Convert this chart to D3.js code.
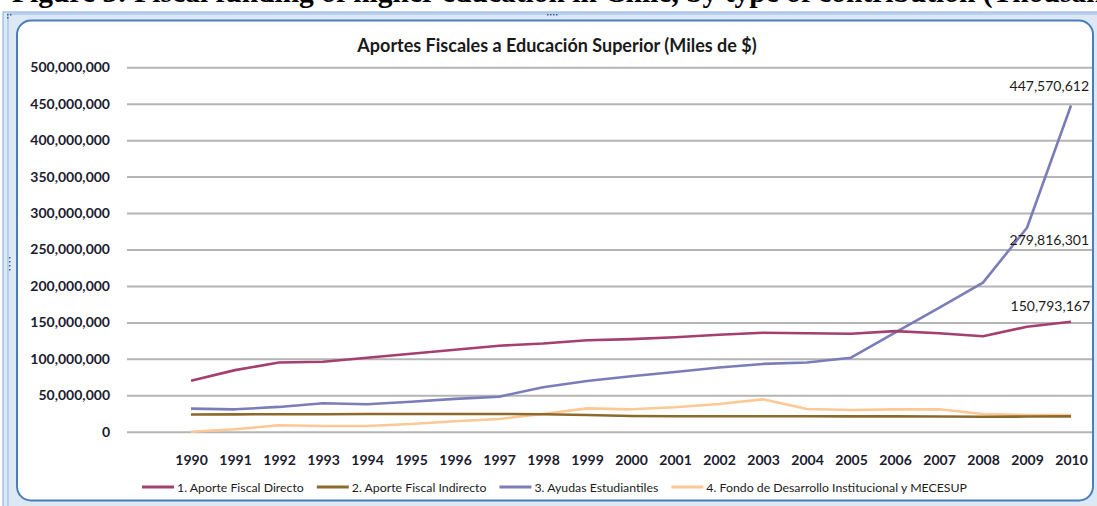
<!DOCTYPE html>
<html>
<head>
<meta charset="utf-8">
<script src="https://cdn.jsdelivr.net/npm/d3@7"></script>
<style>
  html, body { margin: 0; padding: 0; background: #fff; }
  #chart { width: 1097px; height: 506px; overflow: hidden; }
  text { font-family: Lato, "Open Sans", sans-serif; }
</style>
</head>
<body>
<div id="chart"></div>
<script>
// Values (Miles de $)
const years = ['1990', '1991', '1992', '1993', '1994', '1995', '1996', '1997', '1998', '1999', '2000',
  '2001', '2002', '2003', '2004', '2005', '2006', '2007', '2008', '2009', '2010'];

const aporteDirecto = [70.0e6, 84.5e6, 95.0e6, 96.0e6, 101.5e6, 107.0e6, 112.5e6, 118.0e6, 121.0e6, 125.5e6, 127.0e6,
  129.5e6, 133.0e6, 135.8e6, 135.0e6, 134.5e6, 138.0e6, 135.0e6, 131.0e6, 144.0e6, 150793167];

const aporteIndirecto = [23.5e6, 23.8e6, 24.0e6, 24.0e6, 24.2e6, 24.3e6, 24.3e6, 24.3e6, 24.0e6, 23.0e6, 21.5e6,
  21.3e6, 21.2e6, 21.2e6, 21.1e6, 21.0e6, 21.0e6, 20.8e6, 20.5e6, 20.8e6, 21.0e6];

const ayudas = [31.6e6, 30.7e6, 34.0e6, 39.0e6, 37.6e6, 41.0e6, 45.0e6, 48.0e6, 61.0e6, 69.6e6, 76.0e6,
  82.0e6, 88.0e6, 93.0e6, 95.0e6, 101.5e6, 136.0e6, 170.0e6, 204.5e6, 279816301, 447570612];

const fondoMecesup = [0.0e6, 3.3e6, 8.8e6, 7.8e6, 7.8e6, 10.6e6, 14.3e6, 17.4e6, 24.3e6, 32.0e6, 30.7e6,
  33.5e6, 38.0e6, 44.4e6, 31.1e6, 29.8e6, 30.7e6, 30.7e6, 24.3e6, 22.9e6, 22.9e6];

const seriesNames = ['1. Aporte Fiscal Directo', '2. Aporte Fiscal Indirecto', '3. Ayudas Estudiantiles',
  '4. Fondo de Desarrollo Institucional y MECESUP'];

const yTicks = [0, 50e6, 100e6, 150e6, 200e6, 250e6, 300e6, 350e6, 400e6, 450e6, 500e6];

const chartTitle = 'Aportes Fiscales a Educación Superior (Miles de $)';
const pageCaption = 'Figure 3: Fiscal funding of higher education in Chile, by type of contribution (Thousands of $)';

// labelled points: [series index, year]
const dataLabels = [[2, '2010'], [2, '2009'], [0, '2010']];

class LineChart {

  constructor(opts) {
    this.chart = opts.chart;
    this.series = opts.series;
    this.colours = ['#a3406f', '#8c6a2c', '#7b7db8', '#fcc896'];
    this.draw();
  }

  draw() {
    this.width = 1097;
    this.height = 506;

    const svg = d3.select(this.chart).append('svg')
      .attr('width', this.width)
      .attr('height', this.height);
    this.svg = svg;

    // caption of the document the chart was pasted in, cut off at the top like in the source
    svg.append('text')
      .attr('x', 12)
      .attr('y', 2)
      .style('font-family', '"Liberation Serif", serif')
      .style('font-weight', 'bold')
      .style('font-size', '29.5px')
      .attr('fill', '#000')
      .text(pageCaption);

    this.drawFrame();

    this.x = d3.scalePoint()
      .domain(years)
      .range([191, 1071]);

    this.y = d3.scaleLinear()
      .domain([0, 500e6])
      .range([431.7, 67.3]);

    svg.append('text')
      .attr('x', 557)
      .attr('y', 52)
      .attr('text-anchor', 'middle')
      .style('font-size', '18px')
      .style('font-weight', 'bold')
      .attr('fill', '#1a1a1a')
      .text(chartTitle);

    this.drawAxes();
    this.drawLines();
    this.drawLabels();
    this.drawLegend();
  }

  drawFrame() {
    const svg = this.svg;
    svg.append('rect')
      .attr('x', 3).attr('y', 12)
      .attr('width', 1110).attr('height', 510)
      .attr('fill', '#dde8f5')
      .attr('stroke', '#7fa7db')
      .attr('stroke-width', 1);
    svg.append('rect')
      .attr('x', 8).attr('y', 14)
      .attr('width', 1100).attr('height', 500)
      .attr('fill', 'none')
      .attr('stroke', '#b9cfec')
      .attr('stroke-width', 2);
    svg.append('rect')
      .attr('x', 17).attr('y', 20.5)
      .attr('width', 1076).attr('height', 480)
      .attr('rx', 14)
      .attr('fill', '#fff')
      .attr('stroke', '#4a7ebb')
      .attr('stroke-width', 2);

    // little resize handles
    const dots = [[547, 14], [550, 14], [553, 14], [556, 14], [7, 14], [7, 17], [10, 14],
      [9, 257], [9, 261], [9, 265], [9, 269]];
    svg.selectAll('.handle')
      .data(dots)
      .enter()
      .append('rect')
        .attr('class', 'handle')
        .attr('x', d => d[0])
        .attr('y', d => d[1])
        .attr('width', 1.5)
        .attr('height', 1.5)
        .attr('fill', '#3a5f96');
  }

  drawAxes() {
    const yAxis = d3.axisLeft(this.y)
      .tickValues(yTicks)
      .tickFormat(d3.format(','))
      .tickSize(-(1092 - 127))
      .tickPadding(17);

    const gy = this.svg.append('g')
      .attr('transform', 'translate(127,0)')
      .call(yAxis);
    gy.select('.domain').remove();
    gy.selectAll('line')
      .attr('stroke', '#b4b4b4')
      .attr('stroke-width', 2);
    gy.selectAll('text')
      .style('font-family', 'Lato, sans-serif')
      .style('font-size', '14px')
      .style('font-weight', 'bold')
      .attr('fill', '#1c1c30');

    const xAxis = d3.axisBottom(this.x)
      .tickSize(0)
      .tickPadding(23);

    const gx = this.svg.append('g')
      .attr('transform', 'translate(0,432)')
      .call(xAxis);
    gx.select('.domain').remove();
    gx.selectAll('text')
      .style('font-family', 'Lato, sans-serif')
      .style('font-size', '14px')
      .style('font-weight', 'bold')
      .attr('fill', '#1c1c30');
  }

  drawLines() {
    const line = d3.line()
      .x((d, i) => this.x(years[i]))
      .y(d => this.y(d));

    // light one first so the darker lines sit on top
    const order = [3, 1, 2, 0];
    this.svg.append('g')
      .selectAll('path')
      .data(order)
      .enter()
      .append('path')
        .attr('d', i => line(this.series[i]))
        .attr('fill', 'none')
        .attr('stroke', i => this.colours[i])
        .attr('stroke-width', 2.6)
        .attr('stroke-linejoin', 'round');
  }

  drawLabels() {
    const fmt = d3.format(',');
    // offsets from the point, picked by eye
    const offset = [[18, -15], [62, 17], [19, -11]];
    this.svg.append('g')
      .selectAll('text')
      .data(dataLabels)
      .enter()
      .append('text')
        .attr('x', (d, i) => this.x(d[1]) + offset[i][0])
        .attr('y', (d, i) => this.y(this.series[d[0]][years.indexOf(d[1])]) + offset[i][1])
        .attr('text-anchor', 'end')
        .style('font-size', '14px')
        .attr('fill', '#1c1c1c')
        .text(d => fmt(Math.round(this.series[d[0]][years.indexOf(d[1])])));
  }

  drawLegend() {
    const g = this.svg.append('g')
      .attr('transform', 'translate(142,487)');
    let xPos = 0;
    seriesNames.forEach((name, i) => {
      g.append('line')
        .attr('x1', xPos).attr('x2', xPos + 32)
        .attr('y1', 0).attr('y2', 0)
        .attr('stroke', this.colours[i])
        .attr('stroke-width', 3);
      const t = g.append('text')
        .attr('x', xPos + 35)
        .attr('y', 4.5)
        .style('font-size', '12.3px')
        .attr('fill', '#1c1c1c')
        .text(name);
      xPos += 35 + t.node().getComputedTextLength() + 13;
    });
  }
}

new LineChart({
  chart: document.getElementById('chart'),
  series: [aporteDirecto, aporteIndirecto, ayudas, fondoMecesup]
});
</script>
</body>
</html>
